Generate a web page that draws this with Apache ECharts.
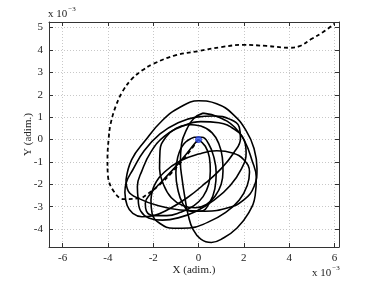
<!DOCTYPE html>
<html>
<head>
<meta charset="utf-8">
<script src="https://cdn.jsdelivr.net/npm/echarts@6/dist/echarts.min.js"></script>
<style>html,body{margin:0;padding:0;background:#fff;}#c{width:374px;height:281px;}</style>
</head>
<body>
<div id="c"></div>
<script>
// values in units of 1e-3
var xTicks = [-6, -4, -2, 0, 2, 4, 6];
var yTicks = [-4, -3, -2, -1, 0, 1, 2, 3, 4, 5];

var dashedPath = [[0,0],[-0.6,-0.8],[-1.2,-1.5],[-1.7,-2.0],[-2.2,-2.4],[-2.6,-2.62],[-3.3,-2.66],[-3.75,-2.3],[-4.0,-1.6],[-4.02,-0.9],[-3.97,0.0],[-3.88,0.7],[-3.65,1.5],[-3.35,2.15],[-2.95,2.7],[-2.5,3.08],[-2.0,3.38],[-1.0,3.77],[0,3.95],[1.0,4.13],[1.97,4.23],[3.0,4.18],[4.02,4.1],[4.46,4.17],[5.0,4.5],[5.5,4.8],[6.0,5.17]];

var loop1 = [[-3.2,-1.8],[-2.95,-0.9],[-2.37,-0.07],[-1.6,0.85],[-0.8,1.45],[0,1.73],[0.8,1.6],[1.5,1.15],[2.1,0.4],[2.45,-0.4],[2.58,-1.3],[2.45,-2.1],[2.0,-2.7],[1.3,-3.05],[0.3,-3.2],[-0.8,-3.15],[-1.8,-2.95],[-2.6,-2.65],[-3.1,-2.3],[-3.2,-1.8]];
var loop2 = [[0.2,1.18],[0.9,1.0],[1.6,0.55],[2.05,-0.1],[2.35,-0.9],[2.55,-1.7],[2.5,-2.5],[2.2,-3.3],[1.7,-3.95],[1.1,-4.4],[0.57,-4.6],[0.1,-4.45],[-0.25,-4.0],[-0.45,-3.4],[-0.6,-2.6],[-0.72,-1.8],[-0.8,-1.0],[-0.75,-0.2],[-0.5,0.5],[-0.2,0.95],[0.2,1.18]];
var loop3 = [[-3.25,-2.37],[-3.15,-2.95],[-2.9,-3.3],[-2.5,-3.45],[-2.0,-3.4],[-1.3,-3.1],[-0.5,-2.6],[0.3,-1.95],[1.0,-1.3],[1.55,-0.6],[1.85,0.05],[1.8,0.55],[1.4,0.9],[0.7,1.05],[-0.1,1.0],[-0.9,0.75],[-1.7,0.25],[-2.4,-0.5],[-2.9,-1.35],[-3.2,-1.95],[-3.25,-2.37]];
var loop4 = [[-2.66,-2.7],[-2.55,-3.2],[-2.2,-3.5],[-1.6,-3.6],[-0.9,-3.5],[-0.1,-3.2],[0.7,-2.7],[1.4,-2.05],[1.9,-1.3],[2.1,-0.6],[2.0,0.0],[1.6,0.45],[0.9,0.75],[0.1,0.8],[-0.7,0.6],[-1.5,0.15],[-2.1,-0.55],[-2.5,-1.4],[-2.7,-2.1],[-2.66,-2.7]];
var loop5 = [[-2.1,-2.7],[-2.05,-3.3],[-1.7,-3.75],[-1.1,-3.96],[-0.4,-3.95],[0.4,-3.7],[1.2,-3.25],[1.8,-2.7],[2.15,-2.05],[2.25,-1.45],[2.0,-0.9],[1.5,-0.6],[0.8,-0.5],[0.0,-0.65],[-0.8,-0.95],[-1.5,-1.45],[-1.95,-2.05],[-2.1,-2.7]];
var loop6 = [[-0.46,0.67],[0.1,0.6],[0.6,0.3],[0.9,-0.2],[1.05,-0.8],[1.08,-1.4],[1.0,-2.0],[0.75,-2.5],[0.35,-2.9],[-0.15,-3.05],[-0.7,-2.95],[-1.2,-2.6],[-1.55,-2.0],[-1.72,-1.3],[-1.7,-0.5],[-1.45,0.1],[-1.0,0.5],[-0.46,0.67]];
var loop7 = [[0,0],[0.3,-0.3],[0.48,-0.8],[0.52,-1.4],[0.45,-2.0],[0.2,-2.55],[-0.2,-2.95],[-0.8,-3.25],[-1.4,-3.4],[-1.95,-3.4],[-2.3,-3.2],[-2.35,-2.85],[-2.1,-2.4],[-1.6,-1.85],[-1.0,-1.2],[-0.5,-0.6],[-0.15,-0.15],[0,0]];
var loop8 = [[-0.2,0.1],[0.15,0.1],[0.45,-0.2],[0.68,-0.8],[0.78,-1.5],[0.72,-2.2],[0.5,-2.8],[0.1,-3.2],[-0.35,-3.2],[-0.7,-2.85],[-0.92,-2.2],[-1.0,-1.5],[-0.92,-0.8],[-0.65,-0.2],[-0.2,0.1]];
var loops = [loop1, loop2, loop3, loop4, loop5, loop6, loop7, loop8];
var startPoint = [[0, 0]];

var FONT = 'Liberation Serif';
var chart = echarts.init(document.getElementById('c'));

var series = [];
loops.forEach(function (lp) {
  series.push({type: 'line', data: lp, smooth: 0.45, showSymbol: false, silent: true,
    lineStyle: {color: '#000', width: 1.6}, xAxisIndex: 0, yAxisIndex: 0});
});
series.push({type: 'line', data: dashedPath, smooth: 0.4, showSymbol: false, silent: true,
  lineStyle: {color: '#000', width: 1.8, type: [4, 3]}, xAxisIndex: 0, yAxisIndex: 0});
series.push({type: 'scatter', data: startPoint, symbol: 'circle', symbolSize: 6,
  itemStyle: {color: '#3a5cf0', borderColor: '#1a2fd0', borderWidth: 1}, xAxisIndex: 0, yAxisIndex: 0, z: 5});

var axisLineStyle = {onZero: false, lineStyle: {color: '#333', width: 1}};
var lbl = {fontFamily: FONT, fontSize: 11, color: '#222'};
var expRich = {b: {fontFamily: FONT, fontSize: 11, fill: '#222', verticalAlign: 'bottom'}, s: {fontFamily: FONT, fontSize: 7, fill: '#222', verticalAlign: 'top', padding: [0,0,7,1]}};

chart.setOption({
  animation: false,
  backgroundColor: '#fff',
  grid: {left: 49, right: 35, top: 22, bottom: 33, containLabel: false},
  xAxis: [{
    type: 'value', min: -6.6, max: 6.2, position: 'bottom',
    axisLine: axisLineStyle,
    axisTick: {inside: true, length: 4, customValues: xTicks, lineStyle: {color: '#333'}},
    axisLabel: Object.assign({customValues: xTicks, margin: 6}, lbl),
    splitLine: {show: true, lineStyle: {color: '#c8c8c8', type: [1, 2], width: 1}},
    name: 'X (adim.)', nameLocation: 'middle', nameGap: 18, nameMoveOverlap: false,
    nameTextStyle: {fontFamily: FONT, fontSize: 11, color: '#222'}
  }, {
    type: 'value', min: -6.6, max: 6.2, position: 'top',
    axisLine: axisLineStyle,
    axisTick: {inside: true, length: 4, customValues: xTicks, lineStyle: {color: '#333'}},
    axisLabel: {show: false}, splitLine: {show: false}
  }],
  yAxis: [{
    type: 'value', min: -4.8, max: 5.25, position: 'left',
    axisLine: axisLineStyle,
    axisTick: {inside: true, length: 4, customValues: yTicks, lineStyle: {color: '#333'}},
    axisLabel: Object.assign({customValues: yTicks, margin: 6}, lbl),
    splitLine: {show: true, lineStyle: {color: '#c8c8c8', type: [1, 2], width: 1}},
    name: 'Y (adim.)', nameLocation: 'middle', nameGap: 15, nameRotate: 90, nameMoveOverlap: false,
    nameTextStyle: {fontFamily: FONT, fontSize: 11, color: '#222'}
  }, {
    type: 'value', min: -4.8, max: 5.25, position: 'right',
    axisLine: axisLineStyle,
    axisTick: {inside: true, length: 4, customValues: yTicks, lineStyle: {color: '#333'}},
    axisLabel: {show: false}, splitLine: {show: false}
  }],
  graphic: [
    {type: 'text', left: 48, top: 6, style: {text: '{b|x 10}{s|−3}', rich: expRich}},
    {type: 'text', left: 312, top: 265, style: {text: '{b|x 10}{s|−3}', rich: expRich}}
  ],
  series: series
});
</script>
</body>
</html>
